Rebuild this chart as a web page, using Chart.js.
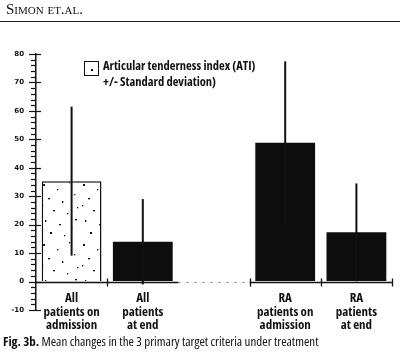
<!DOCTYPE html>
<html>
<head>
<meta charset="utf-8">
<script src="https://cdn.jsdelivr.net/npm/chart.js@4"></script>
<style>
  html,body{margin:0;padding:0;background:#fff;}
  #wrap{position:relative;width:400px;height:357px;overflow:hidden;background:#fff;}
  #c{position:absolute;left:0;top:0;}
  .hdr{position:absolute;left:6px;top:1px;font-family:"Liberation Serif",serif;font-variant:small-caps;font-size:15px;color:#111;letter-spacing:0px;}
  .rule{position:absolute;left:0;top:21px;width:400px;height:0;border-top:1.5px solid #222;}
  .narrow{font-family:"Open Sans",sans-serif;font-stretch:condensed;}
  .cap{position:absolute;left:3px;top:332px;font-size:13px;color:#111;white-space:nowrap;}
  .leg{position:absolute;left:103px;top:58px;font-size:12.5px;font-weight:bold;color:#111;line-height:16px;white-space:nowrap;}
  .legbox{position:absolute;left:84px;top:61px;width:13px;height:13px;border:1.2px solid #111;background:#fff;}
  .legbox i{position:absolute;left:6px;top:7px;width:1.5px;height:1.5px;background:#111;}
</style>
</head>
<body>
<div id="wrap">
  <canvas id="c" width="400" height="357"></canvas>
  <div class="hdr">Simon et.al.</div>
  <div class="rule"></div>
  <div class="legbox"><i></i></div>
  <div class="leg narrow">Articular tenderness index (ATI)<br>+/- Standard deviation)</div>
  <div class="cap narrow"><b>Fig. 3b.</b> Mean changes in the 3 primary target criteria under treatment</div>
</div>
<script>
// ---- data ----
const categories = [
  ["All", "patients on", "admission"],
  ["All", "patients", "at end"],
  "",
  ["RA", "patients on", "admission"],
  ["RA", "patients", "at end"]
];
const meanATI = [35.3, 14, null, 48.8, 17.3];
const sdATI   = [26.2, 15, null, 28.6, 17.2];
const yMin = -10, yMax = 80, yMajor = 10, yMinor = 2;

// ---- speckled fill for the first bar (decorative texture tile) ----
const speckTile = [[3,4],[17,9],[29,2],[8,18],[22,21],[34,14],[13,30],[27,33],[5,40],[19,44],[31,47],[37,27],[10,52],[24,55],[2,25],[35,39]];
function dotPattern(){
  const p = document.createElement('canvas');
  p.width = 40; p.height = 60;
  const g = p.getContext('2d');
  g.fillStyle = '#fff'; g.fillRect(0,0,40,60);
  g.fillStyle = '#111';
  speckTile.forEach(([x, y], k) => g.fillRect(x, y, k % 3 === 0 ? 2 : 1.3, k % 4 === 0 ? 2 : 1.3));
  return g.createPattern(p, 'repeat');
}
const pat = dotPattern();

const axesPlugin = {
  id: 'customAxes',
  afterDatasetsDraw(chart){
    const ctx = chart.ctx;
    const xs = chart.scales.x, ys = chart.scales.y;
    const meta = chart.getDatasetMeta(0);
    ctx.save();
    // error bars
    ctx.strokeStyle = '#111'; ctx.lineWidth = 2;
    meanATI.forEach((m, i) => {
      if (m == null) return;
      const bx = meta.data[i].x;
      ctx.beginPath();
      ctx.moveTo(bx, ys.getPixelForValue(m - sdATI[i]));
      ctx.lineTo(bx, ys.getPixelForValue(m + sdATI[i]));
      ctx.stroke();
    });
    // y axis ticks
    const ax = chart.chartArea.left;
    ctx.lineWidth = 1.2;
    for (let v = yMin; v <= yMax; v += yMinor) {
      const y = Math.round(ys.getPixelForValue(v)) + 0.5;
      ctx.beginPath();
      if (v % yMajor === 0) { ctx.moveTo(ax - 7, y); ctx.lineTo(ax + 5, y); }
      else { ctx.moveTo(ax - 5, y); ctx.lineTo(ax, y); }
      ctx.stroke();
    }
    // x axis line at zero
    const y0 = Math.round(ys.getPixelForValue(0)) + 0.5;
    const n = categories.length;
    const half = (xs.getPixelForValue(1) - xs.getPixelForValue(0)) / 2;
    const edge = i => xs.getPixelForValue(i) - half;
    ctx.lineWidth = 1.5;
    ctx.beginPath(); ctx.moveTo(ax, y0); ctx.lineTo(edge(2), y0); ctx.stroke();
    ctx.beginPath(); ctx.moveTo(edge(3), y0); ctx.lineTo(edge(n), y0); ctx.stroke();
    ctx.setLineDash([2, 6]); ctx.lineWidth = 1; ctx.strokeStyle = '#777';
    ctx.beginPath(); ctx.moveTo(edge(2), y0); ctx.lineTo(edge(3), y0); ctx.stroke();
    ctx.setLineDash([]); ctx.strokeStyle = '#111'; ctx.lineWidth = 1.3;
    [1, 3, 4, 5].forEach(i => {
      const x = Math.round(edge(i)) + 0.5;
      ctx.beginPath(); ctx.moveTo(x, y0 - 4); ctx.lineTo(x, y0 + 4); ctx.stroke();
    });
    ctx.restore();
  }
};

new Chart(document.getElementById('c'), {
  type: 'bar',
  data: {
    labels: categories,
    datasets: [{
      label: 'Articular tenderness index (ATI)',
      data: meanATI,
      backgroundColor: [pat, '#0d0d0d', '#0d0d0d', '#0d0d0d', '#0d0d0d'],
      borderColor: '#111',
      borderWidth: [1.5, 0, 0, 0, 0],
      barPercentage: 0.84,
      categoryPercentage: 1.0
    }]
  },
  options: {
    responsive: false,
    animation: false,
    events: [],
    layout: { padding: { left: 0, right: 8, top: 54, bottom: 47 } },
    plugins: { legend: { display: false }, tooltip: { enabled: false }, title: { display: false } },
    scales: {
      x: {
        position: { y: 0 },
        grid: { display: false },
        border: { display: false },
        ticks: {
          color: '#111',
          padding: 2,
          maxRotation: 0,
          autoSkip: false,
          font: { family: '"Open Sans", sans-serif', size: 13, weight: '700 condensed', lineHeight: 1.04 }
        }
      },
      y: {
        min: yMin, max: yMax,
        afterFit(s){ s.width = 36; },
        grid: { display: true, drawOnChartArea: false, drawTicks: true, tickLength: 6, color: 'rgba(0,0,0,0)' },
        border: { display: true, color: '#111', width: 1.5 },
        ticks: {
          stepSize: yMinor,
          autoSkip: false,
          padding: 6,
          color: '#111',
          font: { family: 'DejaVu Sans', size: 7, weight: 'bold' },
          callback: v => (v % yMajor === 0 ? String(v) : '')
        }
      }
    }
  },
  plugins: [axesPlugin]
});
</script>
</body>
</html>
